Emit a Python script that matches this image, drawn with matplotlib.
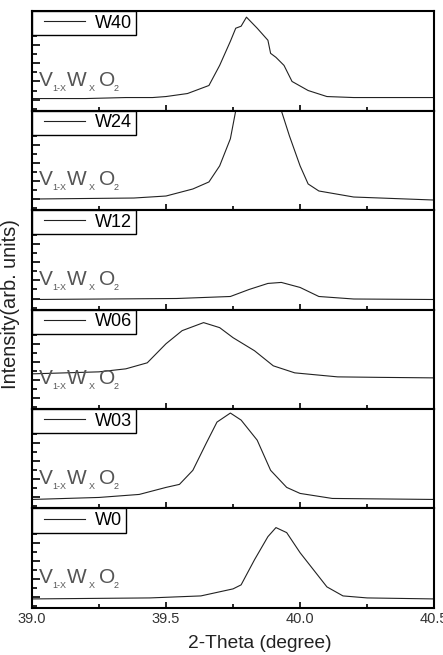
import matplotlib
matplotlib.use("Agg")
import matplotlib.pyplot as plt
from matplotlib.ticker import MultipleLocator
from matplotlib.legend_handler import HandlerLine2D
from matplotlib.lines import Line2D

plt.rcParams['font.family'] = ['Liberation Sans', 'DejaVu Sans']

# samples, top to bottom
labels = ["W40", "W24", "W12", "W06", "W03", "W0"]

# 2-theta / intensity (arb. units, baseline ~0)
w40_x = [39.0, 39.2, 39.35, 39.45, 39.5, 39.58, 39.66, 39.70, 39.74, 39.76, 39.78, 39.80,
         39.84, 39.88, 39.89, 39.91, 39.94, 39.97, 40.03, 40.10, 40.2, 40.35, 40.5]
w40_y = [1, 1, 2, 2, 3, 6, 14, 34, 58, 71, 73, 82,
         71, 59, 46, 42, 34, 18, 9, 3, 2, 2, 2]

w24_x = [39.0, 39.38, 39.5, 39.6, 39.66, 39.70, 39.74, 39.76, 39.80, 39.85, 39.90,
         39.93, 39.96, 40.0, 40.03, 40.07, 40.2, 40.5]
w24_y = [0, 1, 3, 10, 17, 33, 60, 88, 150, 175, 140,
         88, 63, 33, 15, 8, 2, -1]

w12_x = [39.0, 39.54, 39.74, 39.81, 39.88, 39.93, 40.0, 40.07, 40.2, 40.5]
w12_y = [-1, 0, 2, 9, 15, 16, 11, 2, -0.5, -1]

w06_x = [39.0, 39.25, 39.35, 39.43, 39.50, 39.56, 39.64, 39.70, 39.75, 39.83, 39.90,
         39.98, 40.06, 40.14, 40.3, 40.5]
w06_y = [24, 26, 29, 35, 54, 67, 75, 70, 60, 47, 32,
         25, 23, 21, 20.5, 20]

w03_x = [39.0, 39.25, 39.40, 39.50, 39.55, 39.60, 39.65, 39.69, 39.74, 39.78, 39.84,
         39.89, 39.95, 40.0, 40.12, 40.5]
w03_y = [-2, 0, 3, 10, 13, 27, 54, 75, 84, 77, 57,
         27, 10, 4, -1, -2]

w0_x = [39.0, 39.44, 39.63, 39.75, 39.78, 39.83, 39.88, 39.91, 39.95, 40.0, 40.05,
        40.10, 40.16, 40.25, 40.5]
w0_y = [-2, -1, 1, 8, 12, 37, 60, 69, 64, 44, 27,
        10, 1, -1, -2]

xs = [w40_x, w24_x, w12_x, w06_x, w03_x, w0_x]
ys = [w40_y, w24_y, w12_y, w06_y, w03_y, w0_y]

fig, axes = plt.subplots(6, 1, sharex=True, figsize=(4.43, 6.55), dpi=100)
fig.subplots_adjust(left=0.0722, right=0.98, top=0.983, bottom=0.0718, hspace=0)

# pieces of the formula label: text, x offset (pt), y offset (pt), size
formula = [("V", 0, 0, 15), ("1-X", 10, -3.6, 6.5), ("W", 20.5, 0, 15),
           ("X", 36, -3.6, 6.5), ("O", 43, 0, 15), ("2", 53.5, -3.6, 6.5)]

for ax, lab, x, y in zip(axes, labels, xs, ys):
    ax.plot(x, y, color='#222222', lw=0.8, label=lab)
    ax.set_xlim(39.0, 40.5)
    ax.set_ylim(-11, 88)
    ax.xaxis.set_major_locator(MultipleLocator(0.5))
    ax.xaxis.set_minor_locator(MultipleLocator(0.25))
    ax.yaxis.set_major_locator(MultipleLocator(18))
    ax.yaxis.set_minor_locator(MultipleLocator(9))
    ax.tick_params(which='both', direction='in', top=False, right=False, width=1.2,
                   labelleft=False, labelsize=10.5, labelcolor='#333333', pad=3)
    ax.tick_params(axis='y', which='major', length=6)
    ax.tick_params(axis='y', which='minor', length=3.6)
    ax.tick_params(axis='x', which='major', length=4.5)
    ax.tick_params(axis='x', which='minor', length=3)
    for s in ax.spines.values():
        s.set_linewidth(1.5)
    leg = ax.legend(loc='upper left', borderaxespad=0, fancybox=False, framealpha=1,
                    edgecolor='black', fontsize=13, handlelength=3.2, borderpad=0.2,
                    handletextpad=0.1, numpoints=2,
                    handler_map={Line2D: HandlerLine2D(marker_pad=0.45)})
    leg.get_frame().set_linewidth(1.0)
    for txt, dx, dy, sz in formula:
        ax.annotate(txt, xy=(0.017, 0.25), xycoords='axes fraction',
                    xytext=(dx, dy), textcoords='offset points',
                    fontsize=sz, color='#555555', ha='left', va='baseline')

fig.text(260 / 443, 1 - 644 / 655, "2-Theta (degree)", ha='center', va='center',
         fontsize=13.8, color='#222222')
fig.text(11 / 443, 1 - 304 / 655, "Intensity(arb. units)", ha='center', va='center',
         rotation=90, fontsize=14.4, color='#222222')

fig.savefig("out.png", dpi=100)
